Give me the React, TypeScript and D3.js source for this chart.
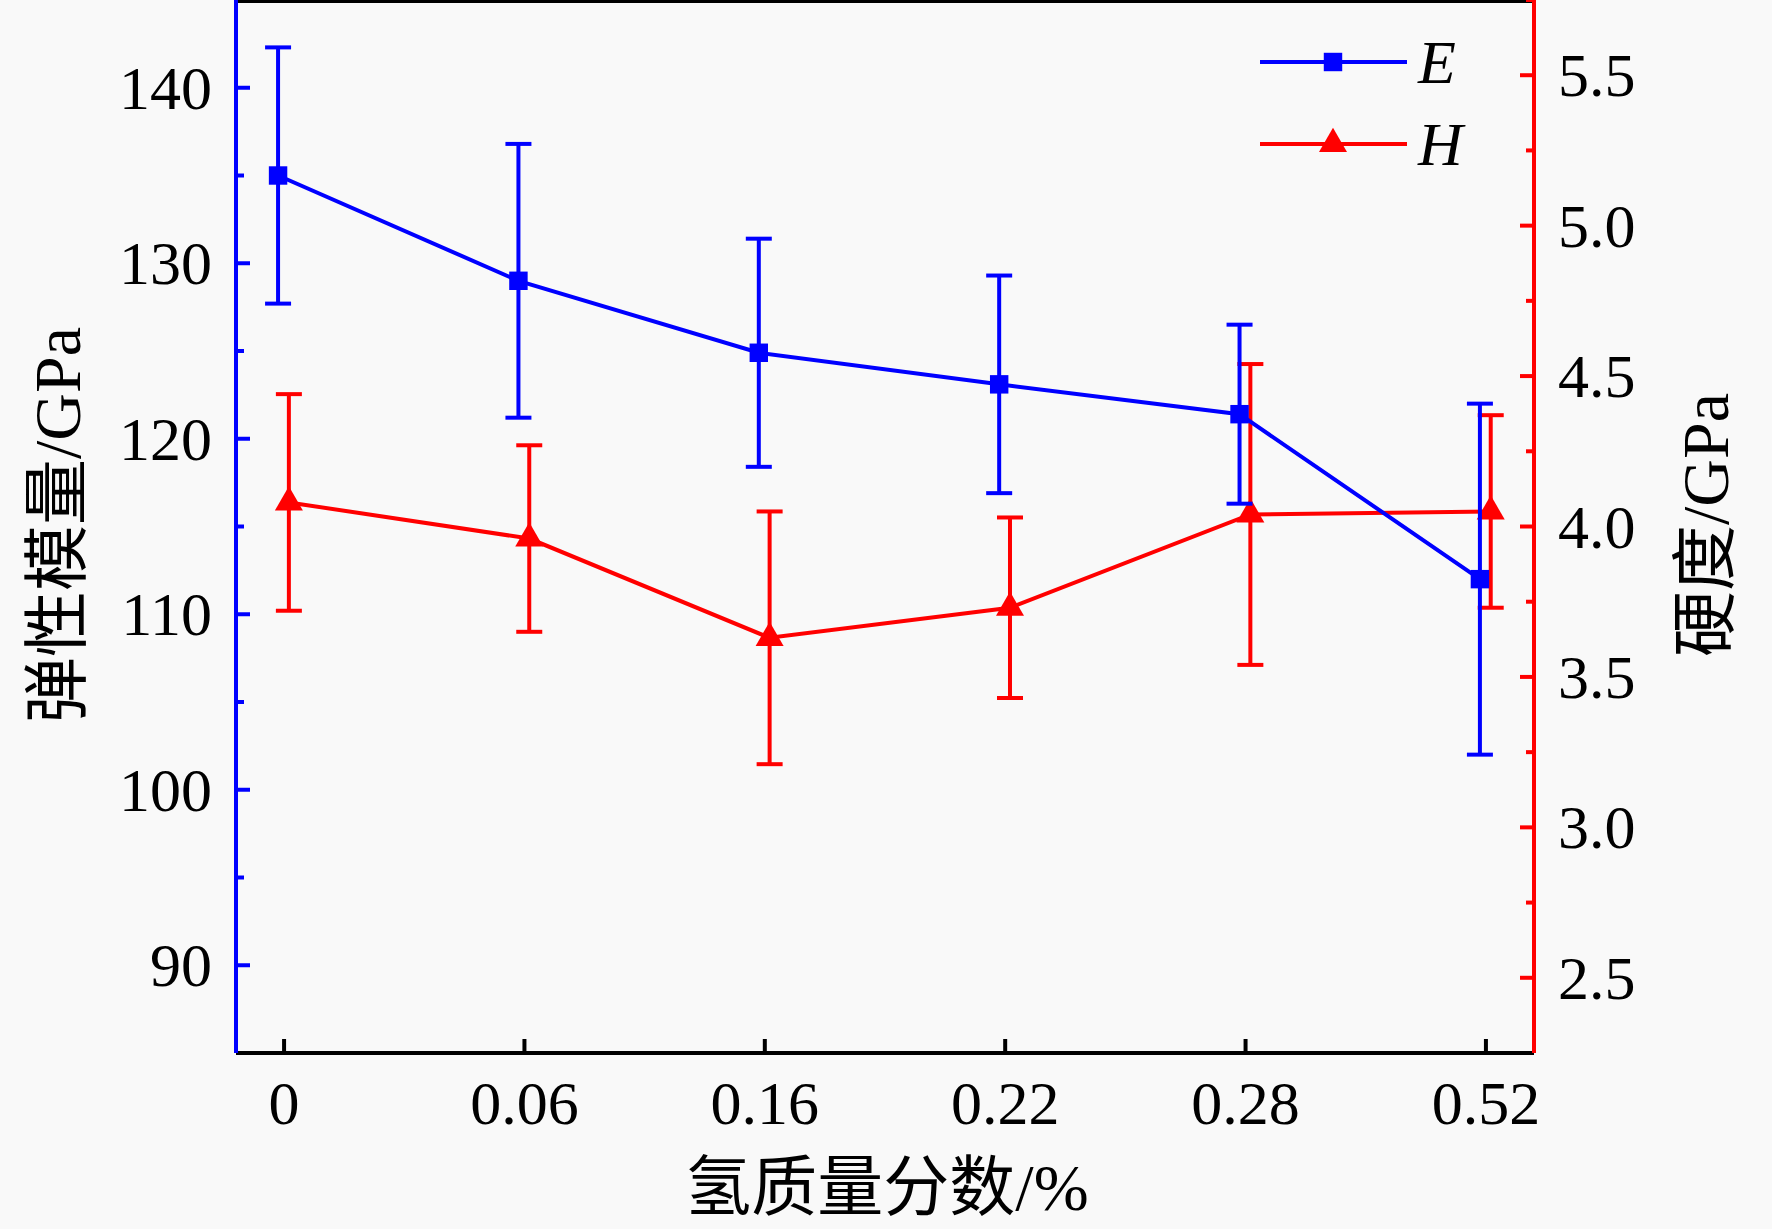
import React, { useEffect, useRef } from "react";
import * as d3 from "d3";

const categories = ["0", "0.06", "0.16", "0.22", "0.28", "0.52"];
const eValues = [135, 129, 124.9, 123.1, 121.4, 112];
const eErrors = [7.3, 7.8, 6.5, 6.2, 5.1, 10];
const hValues = [4.08, 3.96, 3.63, 3.73, 4.04, 4.05];
const hErrors = [0.36, 0.31, 0.42, 0.3, 0.5, 0.32];
const leftTicks = [90, 100, 110, 120, 130, 140];
const rightTicks = [2.5, 3.0, 3.5, 4.0, 4.5, 5.0, 5.5];

const W = 1772, H = 1229;
const L = 236, R = 1534, T = 0, B = 1053;
const FONT = "'Liberation Serif', 'Times New Roman', 'Noto Sans CJK SC', serif";
const BLUE = "#0000ff", RED = "#ff0000";
const SW = 4;

const App: React.FC = () => {
  const ref = useRef<SVGSVGElement | null>(null);

  useEffect(() => {
    if (!ref.current) return;
    const svg = d3.select(ref.current);
    svg.selectAll("*").remove();

    const x = d3.scaleLinear().domain([-0.2, 5.2]).range([L, R]);
    const yE = d3.scaleLinear().domain([85, 145]).range([B, T]);
    const yH = d3.scaleLinear().domain([2.25, 5.75]).range([B, T]);

    svg.append("rect").attr("width", W).attr("height", H).attr("fill", "#f9f9f9");

    // frame lines
    svg.append("line").attr("x1", L).attr("x2", R).attr("y1", B).attr("y2", B).attr("stroke", "#000").attr("stroke-width", SW);
    svg.append("line").attr("x1", L).attr("x2", R).attr("y1", T + 1).attr("y2", T + 1).attr("stroke", "#000").attr("stroke-width", SW);
    svg.append("line").attr("x1", L).attr("x2", L).attr("y1", T).attr("y2", B).attr("stroke", BLUE).attr("stroke-width", SW);
    svg.append("line").attr("x1", R).attr("x2", R).attr("y1", T).attr("y2", B).attr("stroke", RED).attr("stroke-width", SW);

    // bottom ticks
    categories.forEach((c, i) => {
      svg.append("line").attr("x1", x(i)).attr("x2", x(i)).attr("y1", B).attr("y2", B - 14).attr("stroke", "#000").attr("stroke-width", SW);
      svg.append("text").attr("x", x(i)).attr("y", 1124).attr("text-anchor", "middle")
        .attr("font-family", FONT).attr("font-size", 62).text(c);
    });

    // left ticks
    d3.range(90, 145, 5).forEach(v => {
      const major = v % 10 === 0;
      svg.append("line").attr("x1", L).attr("x2", L + (major ? 14 : 8)).attr("y1", yE(v)).attr("y2", yE(v)).attr("stroke", BLUE).attr("stroke-width", SW);
    });
    leftTicks.forEach(v => {
      svg.append("text").attr("x", 212).attr("y", yE(v) + 21).attr("text-anchor", "end")
        .attr("font-family", FONT).attr("font-size", 62).text(v);
    });

    // right ticks
    d3.range(2.5, 5.76, 0.25).forEach(v => {
      const major = Math.abs(v * 2 - Math.round(v * 2)) < 1e-6;
      svg.append("line").attr("x1", R).attr("x2", R - (major ? 14 : 8)).attr("y1", yH(v)).attr("y2", yH(v)).attr("stroke", RED).attr("stroke-width", SW);
    });
    rightTicks.forEach(v => {
      svg.append("text").attr("x", 1558).attr("y", yH(v) + 21).attr("text-anchor", "start")
        .attr("font-family", FONT).attr("font-size", 62).text(v.toFixed(1));
    });

    // axis titles
    svg.append("text").attr("transform", `translate(80,525) rotate(-90)`).attr("text-anchor", "middle")
      .attr("font-family", FONT).attr("font-size", 66).text("弹性模量/GPa");
    svg.append("text").attr("transform", `translate(1728,525) rotate(-90)`).attr("text-anchor", "middle")
      .attr("font-family", FONT).attr("font-size", 66).text("硬度/GPa");
    svg.append("text").attr("x", 887).attr("y", 1210).attr("text-anchor", "middle")
      .attr("font-family", FONT).attr("font-size", 66).text("氢质量分数/%");

    const drawSeries = (vals: number[], errs: number[], y: d3.ScaleLinear<number, number>, off: number, color: string, marker: "square" | "triangle") => {
      const g = svg.append("g");
      vals.forEach((v, i) => {
        const cx = x(i + off);
        g.append("line").attr("x1", cx).attr("x2", cx).attr("y1", y(v - errs[i])).attr("y2", y(v + errs[i])).attr("stroke", color).attr("stroke-width", SW);
        [v - errs[i], v + errs[i]].forEach(e => {
          g.append("line").attr("x1", cx - 13).attr("x2", cx + 13).attr("y1", y(e)).attr("y2", y(e)).attr("stroke", color).attr("stroke-width", SW);
        });
      });
      g.append("path").datum(vals).attr("fill", "none").attr("stroke", color).attr("stroke-width", SW)
        .attr("d", d3.line<number>().x((_, i) => x(i + off)).y(d => y(d)));
      const sym = d3.symbol().type(marker === "square" ? d3.symbolSquare : d3.symbolTriangle).size(340);
      vals.forEach((v, i) => {
        g.append("path").attr("d", sym()).attr("transform", `translate(${x(i + off)},${y(v)})`).attr("fill", color);
      });
    };
    drawSeries(hValues, hErrors, yH, 0.02, RED, "triangle");
    drawSeries(eValues, eErrors, yE, -0.025, BLUE, "square");

    // legend
    const legend = [
      { label: "E", color: BLUE, type: d3.symbolSquare, y: 62 },
      { label: "H", color: RED, type: d3.symbolTriangle, y: 144 },
    ];
    legend.forEach(l => {
      svg.append("line").attr("x1", 1260).attr("x2", 1407).attr("y1", l.y).attr("y2", l.y).attr("stroke", l.color).attr("stroke-width", SW);
      svg.append("path").attr("d", d3.symbol().type(l.type).size(340)()).attr("transform", `translate(1333,${l.y})`).attr("fill", l.color);
      svg.append("text").attr("x", 1418).attr("y", l.y + 21).attr("font-family", FONT).attr("font-style", "italic")
        .attr("font-size", 62).text(l.label);
    });
  }, []);

  return <svg ref={ref} width={W} height={H} style={{ position: "absolute", left: 0, top: 0 }} />;
};

export default App;
